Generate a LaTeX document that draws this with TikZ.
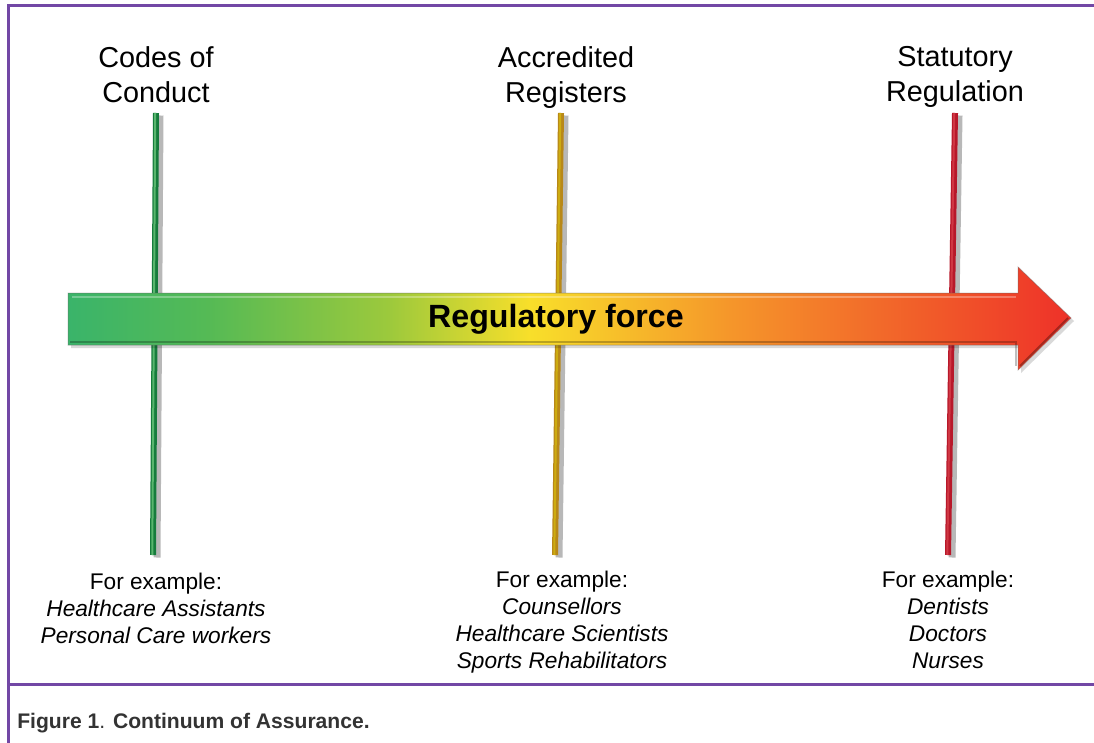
\documentclass[tikz,border=0pt]{standalone}
\usepackage{fontspec}
\setmainfont{Liberation Sans}

\definecolor{framepurple}{HTML}{7247A5}
\definecolor{capgray}{HTML}{333333}
\definecolor{fgreen}{HTML}{3AB46A}
\definecolor{fgreenb}{HTML}{55BA55}
\definecolor{flime}{HTML}{9CC93C}
\definecolor{fyellow}{HTML}{F8DF2A}
\definecolor{forange}{HTML}{F5962A}
\definecolor{fred}{HTML}{EE3129}
\definecolor{polegreen}{HTML}{167C3C}
\definecolor{polegold}{HTML}{B88818}
\definecolor{polered}{HTML}{B8182A}

\pgfdeclarehorizontalshading{forceshade}{100bp}{color(0bp)=(fgreen); color(25bp)=(fgreen); color(32bp)=(fgreenb); color(41bp)=(flime); color(48bp)=(fyellow); color(58bp)=(forange); color(75bp)=(fred); color(100bp)=(fred)}

\begin{document}
\begin{tikzpicture}[x=0.2mm, y=-0.2mm,
  heading/.style={font=\fontsize{16.4}{20}\selectfont, align=center, anchor=north, inner sep=0pt},
  example/.style={font=\fontsize{12.9}{15.4}\selectfont, align=center, anchor=north, inner sep=0pt},
  poleshadow/.style={line width=1.4mm, black!55, opacity=0.5},
  pole/.style={line width=1.2mm},
  framed/.style={framepurple, line width=0.6mm}]

\useasboundingbox[fill=white] (0,0) rectangle (1094,743);

% frame
\draw[framed] (8,743) -- (8,6) -- (1094,6);
\draw[framed] (8,684) -- (1094,684);

% headings
\node[heading] (codes) at (156,46) {Codes of\\Conduct};
\node[heading] (accred) at (566,46) {Accredited\\Registers};
\node[heading] (statut) at (955,46) {Statutory\\Regulation};

% pole ends
\coordinate (CCtop) at (156,113);
\coordinate (CCbot) at (153,555);
\coordinate (ARtop) at (561,113);
\coordinate (ARbot) at (555,555);
\coordinate (SRtop) at (955,113);
\coordinate (SRbot) at (948,555);

\draw[poleshadow] ([xshift=0.8mm,yshift=-0.5mm]CCtop) -- ([xshift=0.8mm,yshift=-0.5mm]CCbot);
\draw[poleshadow] ([xshift=0.8mm,yshift=-0.5mm]ARtop) -- ([xshift=0.8mm,yshift=-0.5mm]ARbot);
\draw[poleshadow] ([xshift=0.8mm,yshift=-0.5mm]SRtop) -- ([xshift=0.8mm,yshift=-0.5mm]SRbot);

\draw[pole, polegreen] (CCtop) -- (CCbot);
\draw[pole, polegold] (ARtop) -- (ARbot);
\draw[pole, polered] (SRtop) -- (SRbot);
\draw[line width=0.4mm, polegreen!80!green!70!white] ([xshift=-0.15mm]CCtop) -- ([xshift=-0.15mm]CCbot);
\draw[line width=0.4mm, polegold!70!yellow] ([xshift=-0.15mm]ARtop) -- ([xshift=-0.15mm]ARbot);
\draw[line width=0.4mm, polered!80!red!85!white] ([xshift=-0.15mm]SRtop) -- ([xshift=-0.15mm]SRbot);

% arrow
\fill[black, opacity=0.15] (71,296) -- (1021,296) -- (1021,270) -- (1074,321) -- (1021,373) -- (1021,348) -- (71,348) -- cycle;
\shade[shading=forceshade] (68,293) -- (1018,293) -- (1018,267) -- (1071,318) -- (1018,370) -- (1018,345) -- (68,345) -- cycle;
\draw[white, opacity=0.3, line width=0.5mm] (72,297) -- (1016,297);
\draw[black, opacity=0.25, line width=0.5mm] (70,342) -- (1016,342) -- (1016,366);
\draw[black, opacity=0.3, line width=0.4mm] (1020,366) -- (1068,318);
\draw[black!60, opacity=0.35, line width=0.2mm] (68,293) -- (1018,293) -- (1018,267) -- (1071,318) -- (1018,370) -- (1018,345) -- (68,345) -- cycle;
\node[font=\fontsize{18.3}{22}\selectfont\bfseries, inner sep=0pt] (force) at (556,319) {Regulatory force};

% examples
\node[example] (exCC) at (156,573) {For example:\\\textit{Healthcare Assistants}\\\textit{Personal Care workers}};
\node[example] (exAR) at (562,571) {For example:\\\textit{Counsellors}\\\textit{Healthcare Scientists}\\\textit{Sports Rehabilitators}};
\node[example] (exSR) at (948,571) {For example:\\\textit{Dentists}\\\textit{Doctors}\\\textit{Nurses}};

% caption
\node[anchor=base west, inner sep=0pt, capgray, font=\fontsize{12}{14}\selectfont] (caption) at (17,728) {\textbf{Figure 1}. \textbf{Continuum of Assurance.}};

\end{tikzpicture}
\end{document}
